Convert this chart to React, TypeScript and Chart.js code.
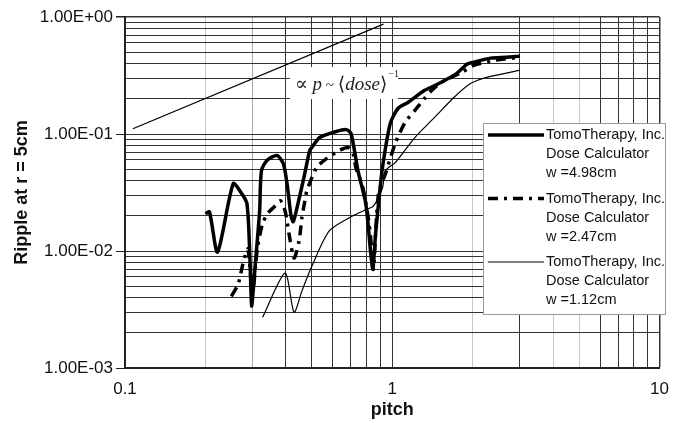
import { useEffect, useRef } from 'react';
import { Chart, registerables } from 'chart.js';
Chart.register(...registerables);

const FONT = "'Liberation Sans', Arial, sans-serif";
const SERIF = "'Liberation Serif', 'DejaVu Serif', serif";

// pitch / ripple values
const wideX = [0.200, 0.207, 0.222, 0.254, 0.272, 0.286, 0.293, 0.296, 0.298, 0.308, 0.319, 0.324, 0.341, 0.371, 0.391, 0.404, 0.418, 0.426, 0.440, 0.467, 0.491, 0.500, 0.535, 0.617, 0.672, 0.701, 0.744, 0.796, 0.830, 0.846, 0.866, 0.904, 0.927, 0.983, 1.052, 1.145, 1.322, 1.527, 1.748, 1.902, 2.018, 2.332, 2.671, 3.006];
const wideY = [0.0208, 0.0216, 0.0098, 0.0376, 0.0315, 0.0253, 0.0094, 0.0045, 0.0034, 0.0082, 0.0221, 0.0486, 0.0600, 0.0654, 0.0558, 0.0376, 0.0200, 0.0178, 0.0234, 0.0423, 0.0722, 0.0766, 0.0933, 0.105, 0.109, 0.101, 0.0486, 0.0253, 0.0098, 0.0070, 0.0140, 0.0376, 0.0592, 0.123, 0.166, 0.186, 0.236, 0.277, 0.331, 0.395, 0.411, 0.445, 0.453, 0.463];

const midX = [0.250, 0.265, 0.276, 0.288, 0.300, 0.313, 0.327, 0.341, 0.362, 0.381, 0.397, 0.411, 0.429, 0.448, 0.459, 0.471, 0.479, 0.521, 0.567, 0.633, 0.683, 0.713, 0.731, 0.776, 0.816, 0.844, 0.851, 0.888, 0.943, 1.026, 1.116, 1.215, 1.322, 1.403, 1.527, 1.824, 2.018, 2.453, 3.006];
const midY = [0.0041, 0.0052, 0.0077, 0.0104, 0.0045, 0.0106, 0.0171, 0.0208, 0.0239, 0.0269, 0.0221, 0.0140, 0.0087, 0.0122, 0.0192, 0.0269, 0.0327, 0.0516, 0.0616, 0.0722, 0.0766, 0.0680, 0.0516, 0.0347, 0.0181, 0.0087, 0.0070, 0.0309, 0.0458, 0.0829, 0.1255, 0.159, 0.202, 0.236, 0.277, 0.337, 0.387, 0.428, 0.453];

const narrowX = [0.327, 0.397, 0.429, 0.459, 0.500, 0.582, 0.713, 0.796, 0.851, 0.919, 0.943, 1.026, 1.215, 1.439, 1.704, 1.968, 2.254, 2.671, 3.006];
const narrowY = [0.00271, 0.00647, 0.00299, 0.00454, 0.0074, 0.0149, 0.0200, 0.0225, 0.0243, 0.0347, 0.0486, 0.0570, 0.0933, 0.1386, 0.206, 0.271, 0.305, 0.331, 0.351];

const trendX = [0.107, 0.927];
const trendY = [0.111, 0.87];

const seriesNames = [
  ['TomoTherapy, Inc.', 'Dose Calculator', 'w =4.98cm'],
  ['TomoTherapy, Inc.', 'Dose Calculator', 'w =2.47cm'],
  ['TomoTherapy, Inc.', 'Dose Calculator', 'w =1.12cm'],
];

const xTitle = 'pitch';
const yTitle = 'Ripple at r = 5cm';

const toPts = (xs: number[], ys: number[]) => xs.map((x, i) => ({ x, y: ys[i] }));

const isDecade = (v: number) => Math.abs(Math.log10(v) - Math.round(Math.log10(v))) < 1e-6;

const buildLogTicks = (minExp: number, maxExp: number) => {
  const t: { value: number }[] = [];
  for (let e = minExp; e < maxExp; e++) {
    for (let n = 1; n <= 9; n++) t.push({ value: parseFloat((n * Math.pow(10, e)).toPrecision(3)) });
  }
  t.push({ value: Math.pow(10, maxExp) });
  return t;
};

const fmtExp = (v: number) => {
  const e = Math.round(Math.log10(v));
  return '1.00E' + (e < 0 ? '-' : '+') + String(Math.abs(e)).padStart(2, '0');
};

const annotationPlugin = {
  id: 'annot',
  beforeDatasetsDraw(chart: any) {
    const ctx = chart.ctx;
    ctx.save();
    ctx.fillStyle = '#fff';
    ctx.fillRect(290, 67, 108, 32);
    ctx.fillStyle = '#222';
    ctx.textBaseline = 'alphabetic';
    let x = 295;
    const base = 90;
    const parts: [string, string][] = [
      ['∝ ', `19px ${SERIF}`],
      ['p', `italic 19px ${SERIF}`],
      [' ~ ', `15px ${SERIF}`],
      ['⟨', `19px 'DejaVu Sans', ${SERIF}`],
      ['dose', `italic 19px ${SERIF}`],
      ['⟩', `19px 'DejaVu Sans', ${SERIF}`],
    ];
    for (const [t, f] of parts) {
      ctx.font = f;
      ctx.fillText(t, x, base);
      x += ctx.measureText(t).width;
    }
    ctx.font = `10px ${SERIF}`;
    ctx.fillText('−1', x + 1, base - 13);
    ctx.restore();
  },
};

const legendPlugin = {
  id: 'customLegend',
  afterDraw(chart: any) {
    const ctx = chart.ctx;
    const bx = 483, by = 123, bw = 182, bh = 191;
    ctx.save();
    ctx.fillStyle = '#fff';
    ctx.fillRect(bx, by, bw, bh);
    ctx.strokeStyle = '#999';
    ctx.lineWidth = 1;
    ctx.strokeRect(bx + 0.5, by + 0.5, bw, bh);
    const styles = chart.data.datasets.slice(0, 3);
    ctx.font = `14.5px ${FONT}`;
    ctx.fillStyle = '#111';
    ctx.textBaseline = 'middle';
    seriesNames.forEach((lines, i) => {
      const y0 = 135 + i * 63.5;
      const ds = styles[i];
      ctx.beginPath();
      ctx.setLineDash(ds.borderDash || []);
      ctx.lineWidth = ds.borderWidth;
      ctx.strokeStyle = '#000';
      ctx.moveTo(488, y0);
      ctx.lineTo(544, y0);
      ctx.stroke();
      ctx.setLineDash([]);
      lines.forEach((l, j) => ctx.fillText(l, 546, y0 + j * 19));
    });
    ctx.restore();
  },
};

export default function App() {
  const ref = useRef<HTMLCanvasElement | null>(null);
  useEffect(() => {
    document.body.style.margin = '0';
    if (!ref.current) return;
    const lineBase = { pointRadius: 0, fill: false, borderColor: '#000', tension: 0.25 };
    const chart = new Chart(ref.current, {
      type: 'line',
      data: {
        datasets: [
          { ...lineBase, label: 'w=4.98cm', data: toPts(wideX, wideY), borderWidth: 3.5 },
          { ...lineBase, label: 'w=2.47cm', data: toPts(midX, midY), borderWidth: 3.5, borderDash: [10, 6, 3, 6] },
          { ...lineBase, label: 'w=1.12cm', data: toPts(narrowX, narrowY), borderWidth: 1.2 },
          { ...lineBase, label: 'trend', data: toPts(trendX, trendY), borderWidth: 1.2, tension: 0 },
        ] as any,
      },
      options: {
        animation: false,
        responsive: false,
        devicePixelRatio: 1,
        parsing: false as any,
        layout: { padding: { top: 17, right: 11, left: 0, bottom: 0 } },
        plugins: { legend: { display: false }, tooltip: { enabled: false } },
        scales: {
          x: {
            type: 'logarithmic',
            min: 0.1,
            max: 10,
            afterBuildTicks: (s: any) => { s.ticks = buildLogTicks(-1, 1); },
            afterFit: (s: any) => { s.height = 55; },
            ticks: {
              autoSkip: false,
              maxRotation: 0,
              padding: 11,
              color: '#111',
              font: { family: FONT, size: 17 },
              callback: (v: any) => (isDecade(Number(v)) ? String(Number(v)) : ''),
            },
            grid: {
              drawTicks: false,
              color: (c: any) => {
                const v = c.tick ? c.tick.value : 0;
                if ([0.2, 2, 4, 5].some((a) => Math.abs(a - v) < 1e-6)) return '#c8c8c8';
                if (Math.abs(v - 0.3) < 1e-6) return '#aaa';
                return '#333';
              },
              lineWidth: (c: any) => (c.tick && Math.abs(c.tick.value - 10) < 1e-6 ? 1.5 : 1),
            },
            border: { color: '#222', width: 2 },
            title: { display: true, text: xTitle, color: '#111', font: { family: FONT, size: 18, weight: 'bold' }, padding: { top: 0, bottom: 2 } },
          },
          y: {
            type: 'logarithmic',
            min: 0.001,
            max: 1,
            afterBuildTicks: (s: any) => { s.ticks = buildLogTicks(-3, 0); },
            afterFit: (s: any) => { s.width = 125; },
            ticks: {
              autoSkip: false,
              padding: 3,
              color: '#111',
              font: { family: FONT, size: 17 },
              callback: (v: any) => (isDecade(Number(v)) ? fmtExp(Number(v)) : ''),
            },
            grid: {
              tickLength: 9,
              color: '#333',
              tickColor: (c: any) => (c.tick && isDecade(c.tick.value) ? '#222' : 'rgba(0,0,0,0)'),
              lineWidth: (c: any) => (c.tick && Math.abs(c.tick.value - 1) < 1e-6 ? 1.5 : 1),
            },
            border: { color: '#222', width: 2 },
            title: { display: true, text: yTitle, color: '#111', font: { family: FONT, size: 18, weight: 'bold' }, padding: { top: 11, bottom: 0 } },
          },
        },
      } as any,
      plugins: [annotationPlugin, legendPlugin],
    });
    return () => chart.destroy();
  }, []);
  return (
    <div style={{ width: 680, height: 423 }}>
      <canvas ref={ref} width={680} height={423} style={{ display: 'block' }} />
    </div>
  );
}
